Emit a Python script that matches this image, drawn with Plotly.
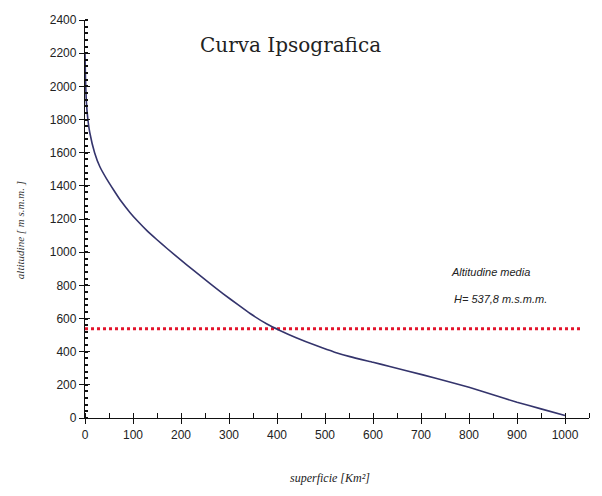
import plotly.graph_objects as go

# Hypsographic curve data (area km², altitude m s.m.m.)
area = [0, 1, 3, 6, 10, 20, 31, 45, 59, 75, 94, 110, 129, 150, 171, 200, 225, 260, 288, 320,
        344, 380, 406, 440, 483, 520, 552, 600, 635, 704, 754, 800, 850, 900, 950, 1000]
altitude = [2200, 2050, 1900, 1800, 1720, 1600, 1515, 1442, 1378, 1308, 1238, 1186, 1130, 1075, 1022, 952, 893, 812, 749, 680,
            630, 565, 528, 484, 435, 397, 370, 336, 311, 260, 222, 185, 140, 95, 55, 15]

mean_altitude = 537.8
mean_x = [0, 1035]
mean_y = [mean_altitude, mean_altitude]

x_ticks = [0, 100, 200, 300, 400, 500, 600, 700, 800, 900, 1000]
y_ticks = [0, 200, 400, 600, 800, 1000, 1200, 1400, 1600, 1800, 2000, 2200, 2400]

fig = go.Figure()
fig.add_trace(go.Scatter(x=mean_x, y=mean_y, mode="lines",
                         line=dict(color="#e3142c", width=3, dash="dot"),
                         showlegend=False, hoverinfo="skip"))
fig.add_trace(go.Scatter(x=area, y=altitude, mode="lines",
                         line=dict(color="#34346c", width=1.6, shape="spline", smoothing=0.5),
                         showlegend=False))
# overlay trace on second axes for inner half of major ticks
fig.add_trace(go.Scatter(x=[None], y=[None], xaxis="x2", yaxis="y2", showlegend=False))

tickfont = dict(family="Liberation Sans", size=12, color="#222")
fig.update_layout(
    width=594, height=488,
    margin=dict(l=77, r=13, t=12, b=78),
    paper_bgcolor="white", plot_bgcolor="white",
    xaxis=dict(range=[0, 1050], tickvals=x_ticks, ticks="outside", ticklen=5,
               tickwidth=1.3, tickcolor="#111", showline=True, linecolor="#111",
               linewidth=1.3, showgrid=False, zeroline=False, tickfont=tickfont,
               automargin=False,
               minor=dict(dtick=50, ticks="inside", ticklen=5, tickcolor="#111", tickwidth=1.3)),
    yaxis=dict(range=[0, 2400], tickvals=y_ticks, ticks="outside", ticklen=5,
               tickwidth=1.3, tickcolor="#111", showline=True, linecolor="#111",
               linewidth=1.3, showgrid=False, zeroline=False, tickfont=tickfont,
               automargin=False,
               minor=dict(dtick=40, ticks="inside", ticklen=3, tickcolor="#111", tickwidth=1.5)),
    xaxis2=dict(range=[0, 1050], overlaying="x", tickvals=x_ticks, ticks="inside",
                ticklen=5, tickwidth=1.3, tickcolor="#111", showticklabels=False,
                showgrid=False, zeroline=False, anchor="y2", automargin=False),
    yaxis2=dict(range=[0, 2400], overlaying="y", tickvals=y_ticks, ticks="inside",
                ticklen=5, tickwidth=1.3, tickcolor="#111", showticklabels=False,
                showgrid=False, zeroline=False, anchor="x2", automargin=False),
    annotations=[
        dict(text="Curva Ipsografica", x=0.407, y=0.937, xref="paper", yref="paper",
             showarrow=False, xanchor="center", yanchor="middle",
             font=dict(family="DejaVu Serif", size=20, color="#222")),
        dict(text="<i>Altitudine media</i>", x=845, y=880, xref="x", yref="y",
             showarrow=False, font=dict(family="Liberation Sans", size=11, color="#222")),
        dict(text="<i>H= 537,8 m.s.m.m.</i>", x=865, y=720, xref="x", yref="y",
             showarrow=False, font=dict(family="Liberation Sans", size=11, color="#222")),
        dict(text="<i>superficie [Km²]</i>", x=0.486, y=-0.151, xref="paper", yref="paper",
             showarrow=False, xanchor="center", yanchor="middle",
             font=dict(family="Liberation Serif", size=12, color="#222")),
        dict(text="<i>altitudine [ m s.m.m. ]</i>", x=-0.129, y=0.472, xref="paper", yref="paper",
             showarrow=False, xanchor="center", yanchor="middle", textangle=-90,
             font=dict(family="Liberation Serif", size=11, color="#333")),
    ],
)

fig.write_html("out.html")
